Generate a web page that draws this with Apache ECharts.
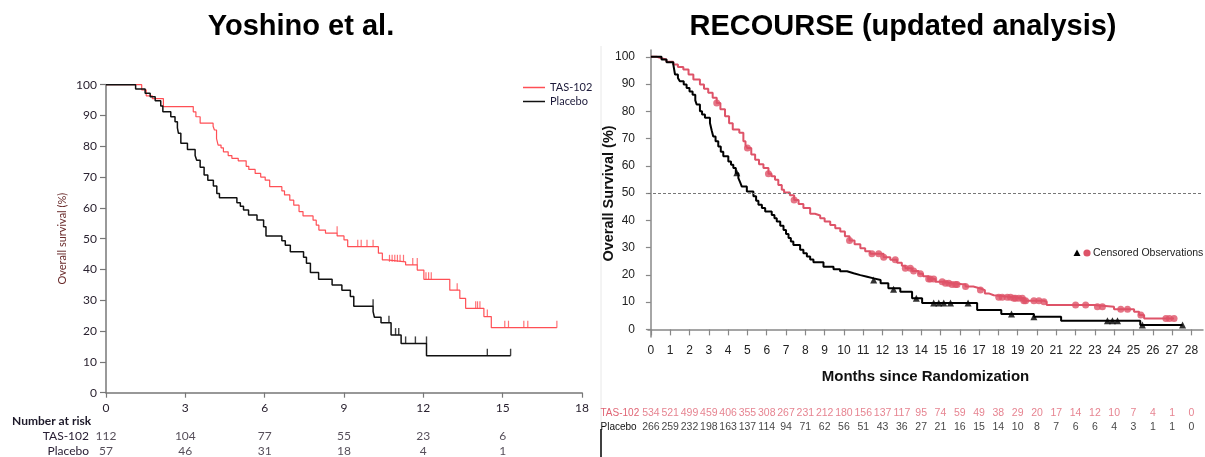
<!DOCTYPE html>
<html><head><meta charset="utf-8">
<script src="https://cdn.jsdelivr.net/npm/echarts@6/dist/echarts.min.js"></script>
<style>html,body{margin:0;padding:0;background:#fff}#c{width:1205px;height:457px}</style>
</head><body><div id="c"></div>
<script>
// ---------- Left panel (Yoshino et al.) ----------
const leftXTicks = [0, 3, 6, 9, 12, 15, 18];
const leftTAS = [[0,100],[1.35,98.3],[1.52,96.4],[1.75,95.5],[2.17,92.9],[3.3,91.2],[3.4,89.6],[3.56,87.5],[4.05,86.5],[4.1,85.3],[4.18,82.5],[4.24,80.4],[4.35,79.5],[4.44,78.2],[4.62,77],[4.76,76.1],[5.0,75.3],[5.3,73.5],[5.4,72.5],[5.64,71.2],[5.85,70],[6.02,69],[6.19,66.9],[6.65,65.5],[6.75,64.2],[6.95,62.5],[7.1,60.9],[7.3,58.8],[7.45,57.4],[7.83,56],[7.95,54.4],[8.05,52.8],[8.3,51.8],[8.74,50.9],[9.0,49.6],[9.14,47.4],[10.3,45.3],[10.45,43.1],[10.63,42.5],[11.33,41.5],[11.77,39.8],[12.02,36.8],[13.0,33.3],[13.38,30.6],[13.6,27.4],[14.29,24.7],[14.57,21.1],[17.05,21.1]];
const leftTASCensor = [[8.74,51.8],[9.52,47.4],[9.65,47.4],[9.87,47.4],[10.1,47.4],[10.72,42.5],[10.82,42.5],[10.92,42.5],[11.02,42.5],[11.12,42.5],[11.25,42.5],[11.6,41.5],[11.77,41.5],[12.1,36.8],[12.2,36.8],[12.3,36.8],[13.28,33.3],[13.98,27.4],[14.05,27.4],[14.14,27.4],[14.42,24.7],[15.08,21.1],[15.22,21.1],[15.8,21.1],[15.95,21.1],[17.05,21.1]];
const leftPlacebo = [[0,100],[1.12,98.6],[1.48,97.2],[1.67,96.1],[1.86,94.8],[2.07,93.1],[2.15,91.2],[2.45,89.6],[2.61,88],[2.7,86],[2.74,84.2],[2.83,81],[3.08,79],[3.37,77],[3.43,75.5],[3.56,73.2],[3.71,70.7],[3.85,69],[4.06,67.1],[4.19,64.7],[4.29,63.3],[4.95,61.7],[5.08,60.5],[5.2,59.3],[5.39,57.7],[5.71,56.1],[5.96,53.9],[6.05,50.9],[6.65,49.3],[6.78,47.9],[6.97,45.8],[7.47,44],[7.58,42],[7.73,39],[8.04,36.8],[8.55,35],[8.92,33.3],[9.24,31.2],[9.37,28.1],[10.1,26.3],[10.15,24.5],[10.4,22.7],[10.78,18.7],[11.16,16],[12.12,12],[15.3,12]];
const leftPlaceboCensor = [[10.1,28.1],[10.7,22.7],[10.95,18.7],[11.07,18.7],[11.33,16],[11.7,16],[12.12,16],[14.42,12],[15.3,12]];
const leftRiskMonths = [0, 3, 6, 9, 12, 15];
const leftRiskTAS = [112, 104, 77, 55, 23, 6];
const leftRiskPlacebo = [57, 46, 31, 18, 4, 1];

// ---------- Right panel (RECOURSE) ----------
const rightXTicks = [0,1,2,3,4,5,6,7,8,9,10,11,12,13,14,15,16,17,18,19,20,21,22,23,24,25,26,27,28];
const rightYTicks = [0,10,20,30,40,50,60,70,80,90,100];
const rightTAS = [[0,100],[0.3,99.6],[0.47,99],[0.8,98.2],[1.16,97.2],[1.4,96.3],[1.68,95.3],[1.95,93.5],[2.2,91.7],[2.54,89.8],[2.75,88.3],[2.97,86.8],[3.2,85],[3.41,83.1],[3.6,80.8],[3.84,78.2],[4.05,75.6],[4.24,73.3],[4.58,72.1],[4.79,69],[4.9,67.6],[5.0,66.5],[5.2,64.2],[5.4,62.2],[5.6,60.6],[5.83,59.2],[6.09,57.1],[6.25,56.2],[6.43,54.9],[6.6,53],[6.78,51.2],[6.9,50.2],[7.2,49.2],[7.42,47.5],[7.65,46],[7.9,44.5],[8.25,42.4],[8.5,41.8],[8.77,40.8],[9.0,39.6],[9.29,38.3],[9.55,37.1],[9.81,35.9],[10.05,34.2],[10.29,32.6],[10.55,31.2],[10.85,29.8],[11.1,28.7],[11.36,27.7],[12.05,26.5],[12.4,25.5],[12.75,24.4],[13.0,23.3],[13.18,22.4],[13.53,21.4],[13.87,20.4],[14.1,19.5],[14.39,18.5],[14.74,17.5],[15.17,16.9],[15.6,16.5],[16.3,15.7],[16.7,15],[17.07,14.4],[17.3,13.2],[17.5,12.5],[17.76,11.8],[18.8,11.4],[19.32,10.5],[20.36,10.1],[20.5,8.9],[22.95,8.3],[23.99,7.4],[25.03,6.5],[25.29,5.3],[25.55,4.0],[27.1,4.0]];
const rightTASCensor = [[3.41,83.1],[5.0,66.5],[6.09,57.1],[7.42,47.5],[10.29,32.6],[11.45,27.7],[11.8,27.7],[12.06,26.5],[12.66,25.5],[13.18,22.4],[13.44,22.4],[13.61,21.4],[13.96,20.4],[14.39,18.5],[14.48,18.5],[14.65,18.5],[15.09,17.5],[15.26,16.9],[15.43,16.9],[15.6,16.5],[15.78,16.5],[15.86,16.5],[16.3,15.7],[17.07,14.4],[18.02,11.8],[18.2,11.8],[18.46,11.8],[18.63,11.8],[18.8,11.4],[18.89,11.4],[19.06,11.4],[19.24,11.4],[19.32,10.5],[19.41,10.5],[19.84,10.5],[20.1,10.5],[20.36,10.1],[22.0,8.9],[22.52,8.9],[23.13,8.3],[23.39,8.3],[24.34,7.4],[24.69,7.4],[25.38,5.3],[26.68,4.0],[26.86,4.0],[27.1,4.0]];
const rightPlacebo = [[0,100],[0.55,99],[0.81,98],[1.16,97.2],[1.25,93.5],[1.4,92.2],[1.5,91],[1.7,89.8],[1.85,88.6],[2.0,87.3],[2.16,86.1],[2.3,84],[2.37,82.5],[2.54,80],[2.65,78.8],[2.8,77.6],[3.06,75.7],[3.15,73],[3.23,70.8],[3.35,69],[3.49,67.1],[3.62,65.2],[3.75,63.5],[4.01,61.6],[4.15,60.4],[4.27,59.2],[4.4,57.3],[4.53,55.5],[4.62,54],[4.71,52.4],[4.97,50.6],[5.31,48.8],[5.45,47.2],[5.57,45.7],[5.75,44.5],[5.92,43.2],[6.26,42],[6.4,40.8],[6.52,39.6],[6.7,38],[6.87,36.5],[7.0,35],[7.13,33.5],[7.25,32.2],[7.38,31],[7.73,29.2],[7.9,27.9],[8.08,26.7],[8.25,25.6],[8.42,24.6],[8.94,23],[9.46,22.1],[9.8,21.3],[10.16,20.6],[10.5,19.9],[10.85,19.3],[11.2,18.7],[11.54,18.1],[11.9,16.9],[12.3,15.1],[12.92,13.8],[13.53,11.4],[14.05,9.7],[16.9,7.1],[18.15,5.6],[19.84,4.6],[21.25,3.2],[25.35,1.6],[27.54,1.6]];
const rightPlaceboCensor = [[4.45,57.5],[11.54,18.1],[12.57,14.7],[13.75,11.4],[14.65,9.7],[14.91,9.7],[15.17,9.7],[15.52,9.7],[16.43,9.7],[18.68,5.6],[19.84,4.6],[23.65,3.2],[23.91,3.2],[24.17,3.2],[25.46,1.6],[27.54,1.6]];
const rightRiskMonths = [0,1,2,3,4,5,6,7,8,9,10,11,12,13,14,15,16,17,18,19,20,21,22,23,24,25,26,27,28];
const rightRiskTAS = [534,521,499,459,406,355,308,267,231,212,180,156,137,117,95,74,59,49,38,29,20,17,14,12,10,7,4,1,0];
const rightRiskPlacebo = [266,259,232,198,163,137,114,94,71,62,56,51,43,36,27,21,16,15,14,10,8,7,6,6,4,3,1,1,0];

// ---------- fonts ----------
function hasFont(name) {
  const c = document.createElement('canvas').getContext('2d');
  const s = 'mmmmmmmmmmlli1234567890WwQ';
  let diff = false;
  ['monospace', 'serif'].forEach(g => {
    c.font = '40px ' + g; const a = c.measureText(s).width;
    c.font = '40px "' + name + '", ' + g; const b = c.measureText(s).width;
    if (Math.abs(a - b) > 0.5) diff = true;
  });
  return diff;
}
const narrowName = ['Liberation Sans Narrow', 'Arial Narrow', 'Nimbus Sans Narrow'].find(hasFont);
const RF = narrowName ? '"' + narrowName + '"' : '"Liberation Sans", Arial, sans-serif';
const SZ = narrowName ? {tick: 13, risk: 12, row: 12, leg: 13} : {tick: 12, risk: 10.5, row: 10, leg: 10.5};
const LF = 'Lato, "Open Sans", sans-serif';
const BF = '"Liberation Sans", Arial, sans-serif';
const RED_L = '#ff4f55', RED_R = '#de5368', RED_T = '#e06474';

const chart = echarts.init(document.getElementById('c'), null, {renderer: 'canvas'});

function riskData(months, tas, pl, tasColor, plColor) {
  const d = [];
  months.forEach((m, i) => {
    d.push({value: [m, 'TAS-102', tas[i]], label: {color: tasColor}});
    d.push({value: [m, 'Placebo', pl[i]], label: {color: plColor}});
  });
  return d;
}
const T = (x, y, text, font, fill, align) => ({type: 'text', x, y, silent: true,
  style: {text, font, fill, align: align || 'left', verticalAlign: 'middle', textAlign: align || 'left', textVerticalAlign: 'middle'}});

const option = {
  animation: false,
  backgroundColor: '#fff',
  graphic: [
    T(301, 27, 'Yoshino et al.', 'bold 29px ' + BF, '#000', 'center'),
    T(903, 27, 'RECOURSE (updated analysis)', 'bold 29px ' + BF, '#000', 'center'),
    T(12, 421, 'Number at risk', 'bold 12px ' + LF, '#1e1a2a'),
    {type: 'line', silent: true, shape: {x1: 601, y1: 46, x2: 601, y2: 428}, style: {stroke: '#e8e8e8', lineWidth: 1}},
    {type: 'line', silent: true, shape: {x1: 601, y1: 429, x2: 601, y2: 457}, style: {stroke: '#000', lineWidth: 1.5}},
    {type: 'polygon', silent: true, shape: {points: [[1077, 249.5], [1073.5, 256], [1080.5, 256]]}, style: {fill: '#000'}},
    {type: 'circle', silent: true, shape: {cx: 1087, cy: 253, r: 3.6}, style: {fill: RED_R}},
    T(1093, 253, 'Censored Observations', SZ.leg + 'px ' + RF, '#222')
  ],
  legend: [
    {left: 518, top: 77, orient: 'vertical', itemWidth: 22, itemHeight: 1.5, itemGap: 3, icon: 'rect',
     data: ['TAS-102', 'Placebo'], textStyle: {fontFamily: LF, fontSize: 11, color: '#1c1a3a'}}
  ],
  grid: [
    {left: 106, top: 84.7, width: 476, height: 308, outerBoundsMode: 'none'},
    {left: 648, top: 50, width: 555, height: 287, outerBoundsMode: 'none'},
    {left: 106, top: 428.5, width: 476, height: 30, outerBoundsMode: 'none'},
    {left: 648, top: 406, width: 555, height: 28, outerBoundsMode: 'none'}
  ],
  xAxis: [
    {gridIndex: 0, type: 'value', min: 0, max: 18, interval: 3,
     axisLine: {show: true, lineStyle: {color: '#777', width: 1.5}},
     axisTick: {show: true, length: 5, lineStyle: {color: '#777', width: 1.2}},
     axisLabel: {show: true, margin: 9, fontFamily: LF, fontSize: 12, color: '#2a2230'},
     splitLine: {show: false}},
    {gridIndex: 1, type: 'value', min: -0.15, max: 28.6,
     axisLine: {show: true, lineStyle: {color: '#888', width: 1.5}},
     axisTick: {show: true, length: 6, customValues: rightXTicks, lineStyle: {color: '#888', width: 1.2}},
     axisLabel: {show: true, margin: 8, customValues: rightXTicks, fontFamily: RF, fontSize: SZ.tick, color: '#222'},
     splitLine: {show: false},
     name: 'Months since Randomization', nameLocation: 'middle', nameGap: 32,
     nameTextStyle: {fontFamily: BF, fontWeight: 'bold', fontSize: 15, color: '#111'}},
    {gridIndex: 2, type: 'value', min: 0, max: 18, show: false},
    {gridIndex: 3, type: 'value', min: -0.15, max: 28.6, show: false}
  ],
  yAxis: [
    {gridIndex: 0, type: 'value', min: 0, max: 100, interval: 10,
     axisLine: {show: true, lineStyle: {color: '#777', width: 1.5}},
     axisTick: {show: true, length: 6, lineStyle: {color: '#777', width: 1.2}},
     axisLabel: {show: true, margin: 9, fontFamily: LF, fontSize: 12, color: '#2a2230'},
     splitLine: {show: false},
     name: 'Overall survival (%)', nameLocation: 'middle', nameGap: 38,
     nameTextStyle: {fontFamily: LF, fontSize: 11, color: '#6a2b2b'}},
    {gridIndex: 1, type: 'value', min: -2.8, max: 102.5,
     axisLine: {show: true, lineStyle: {color: '#888', width: 1.5}},
     axisTick: {show: true, length: 5, customValues: rightYTicks, lineStyle: {color: '#888', width: 1.2}},
     axisLabel: {show: true, margin: 13, customValues: rightYTicks, fontFamily: RF, fontSize: SZ.tick, color: '#222'},
     splitLine: {show: false},
     name: 'Overall Survival (%)', nameLocation: 'middle', nameGap: 32, nameMoveOverlap: false,
     nameTextStyle: {fontFamily: BF, fontWeight: 'bold', fontSize: 14.5, color: '#111'}},
    {gridIndex: 2, type: 'category', data: ['Placebo', 'TAS-102'],
     axisLine: {show: false}, axisTick: {show: false}, splitLine: {show: false},
     axisLabel: {show: true, interval: 0, margin: 17, fontFamily: LF, fontSize: 12, color: '#2a2035'}},
    {gridIndex: 3, type: 'category', data: ['Placebo', 'TAS-102'],
     axisLine: {show: false}, axisTick: {show: false}, splitLine: {show: false},
     axisLabel: {show: true, interval: 0, margin: 47.5, align: 'left', fontFamily: RF, fontSize: SZ.row,
       color: (v) => v === 'TAS-102' ? RED_T : '#111'}}
  ],
  series: [
    {name: 'TAS-102', type: 'line', xAxisIndex: 0, yAxisIndex: 0, step: 'end', data: leftTAS,
     showSymbol: false, color: RED_L, lineStyle: {color: RED_L, width: 1.2}, z: 3},
    {name: 'Placebo', type: 'line', xAxisIndex: 0, yAxisIndex: 0, step: 'end', data: leftPlacebo,
     showSymbol: false, color: '#111', lineStyle: {color: '#111', width: 1.5}, z: 3},
    {name: 'TAS-102 censor', type: 'scatter', xAxisIndex: 0, yAxisIndex: 0, data: leftTASCensor,
     symbol: 'rect', symbolSize: [1.2, 7], symbolOffset: [0, '-50%'], itemStyle: {color: RED_L}, z: 4},
    {name: 'Placebo censor', type: 'scatter', xAxisIndex: 0, yAxisIndex: 0, data: leftPlaceboCensor,
     symbol: 'rect', symbolSize: [1.4, 7], symbolOffset: [0, '-50%'], itemStyle: {color: '#111'}, z: 4},

    {name: 'TAS-102 (RECOURSE)', type: 'line', xAxisIndex: 1, yAxisIndex: 1, step: 'end', data: rightTAS,
     showSymbol: false, color: RED_R, lineStyle: {color: RED_R, width: 2}, z: 3,
     markLine: {silent: true, symbol: 'none', label: {show: false},
       lineStyle: {type: [3, 2], color: '#777', width: 1}, data: [{yAxis: 50}]}},
    {name: 'Placebo (RECOURSE)', type: 'line', xAxisIndex: 1, yAxisIndex: 1, step: 'end', data: rightPlacebo,
     showSymbol: false, color: '#000', lineStyle: {color: '#000', width: 2}, z: 3},
    {name: 'Censored Observations', type: 'scatter', xAxisIndex: 1, yAxisIndex: 1, data: rightTASCensor,
     symbol: 'circle', symbolSize: 7, itemStyle: {color: RED_R}, z: 4},
    {name: 'Censored (placebo)', type: 'scatter', xAxisIndex: 1, yAxisIndex: 1, data: rightPlaceboCensor,
     symbol: 'triangle', symbolSize: 7, itemStyle: {color: '#000'}, z: 4},

    {name: 'risk left', type: 'scatter', xAxisIndex: 2, yAxisIndex: 2,
     data: riskData(leftRiskMonths, leftRiskTAS, leftRiskPlacebo, '#2a2230', '#2a2230'),
     symbolSize: 1, itemStyle: {color: 'rgba(0,0,0,0)'},
     label: {show: true, position: 'inside', formatter: p => String(p.value[2]), fontFamily: LF, fontSize: 12}},
    {name: 'risk right', type: 'scatter', xAxisIndex: 3, yAxisIndex: 3,
     data: riskData(rightRiskMonths, rightRiskTAS, rightRiskPlacebo, RED_T, '#111'),
     symbolSize: 1, itemStyle: {color: 'rgba(0,0,0,0)'},
     label: {show: true, position: 'inside', formatter: p => String(p.value[2]), fontFamily: RF, fontSize: SZ.risk}}
  ]
};
chart.setOption(option);
</script></body></html>
